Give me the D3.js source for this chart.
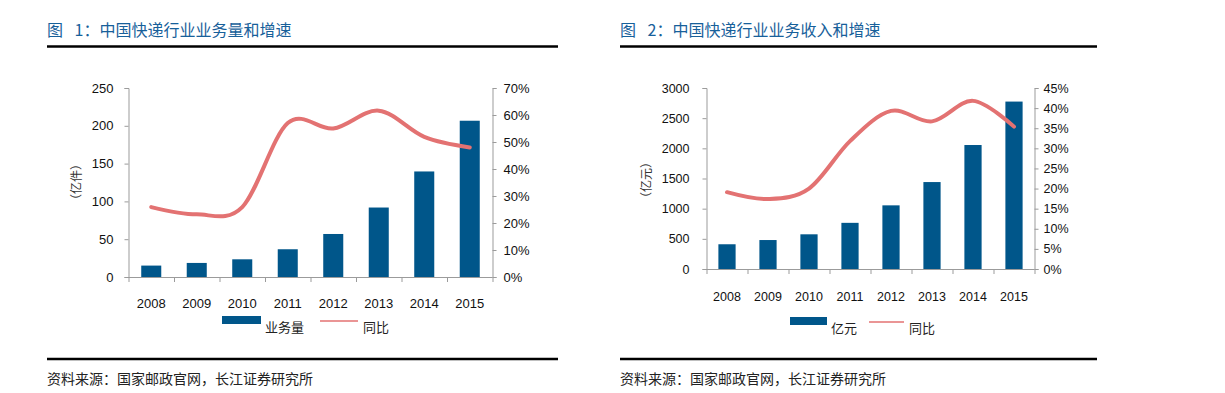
<!DOCTYPE html>
<html>
<head>
<meta charset="utf-8">
<script src="https://cdn.jsdelivr.net/npm/d3@7"></script>
<style>
  html, body { margin: 0; padding: 0; background: #fff; }
  svg { display: block; }
</style>
</head>
<body>
<svg id="chart" width="1225" height="393"></svg>
<script>
// ---------- DATA ----------
const years = ["2008", "2009", "2010", "2011", "2012", "2013", "2014", "2015"];

// Chart 1: 业务量 (亿件) and 同比
const volume = [15.1, 18.6, 23.4, 36.7, 56.9, 91.9, 139.6, 206.7];
const volumeGrowth = [0.259, 0.232, 0.259, 0.57, 0.55, 0.616, 0.519, 0.48];
const volumeTicks = [0, 50, 100, 150, 200, 250];
const volumePctTicks = [0, 0.1, 0.2, 0.3, 0.4, 0.5, 0.6, 0.7];

// Chart 2: 业务收入 (亿元) and 同比
const revenue = [410, 480, 575, 765, 1055, 1441, 2055, 2775];
const revenueGrowth = [0.191, 0.174, 0.20, 0.318, 0.393, 0.367, 0.418, 0.354];
const revenueTicks = [0, 500, 1000, 1500, 2000, 2500, 3000];
const revenuePctTicks = [0, 0.05, 0.1, 0.15, 0.2, 0.25, 0.3, 0.35, 0.4, 0.45];

const titles = ["图\u2002 1：中国快递行业业务量和增速", "图\u2002 2：中国快递行业业务收入和增速"];
const yTitles = ["（亿件）", "（亿元）"];
const legendBar = ["业务量", "亿元"];
const legendLine = "同比";
const sourceText = "资料来源：国家邮政官网，长江证券研究所";

// ---------- STYLE ----------
const BAR = "#00568A";
const LINE = "#E37272";
const AXIS = "#9B9B9B";
const TITLE = "#17609A";
const LATIN = "'Liberation Sans', Arial, sans-serif";
const CJK = "'Noto Sans CJK SC', 'Liberation Sans', sans-serif";

const svg = d3.select("#chart");

function drawPanel(cfg) {
  const g = svg.append("g");

  // Title + rules
  g.append("text").attr("x", cfg.frameX0).attr("y", 36)
    .attr("font-family", CJK).attr("font-size", 16).attr("fill", TITLE)
    .style("white-space", "pre")
    .text(cfg.title);
  g.append("line").attr("x1", cfg.frameX0).attr("x2", cfg.frameX1)
    .attr("y1", 46.5).attr("y2", 46.5).attr("stroke", "#000").attr("stroke-width", 2.5);
  g.append("line").attr("x1", cfg.frameX0).attr("x2", cfg.frameX1)
    .attr("y1", 359).attr("y2", 359).attr("stroke", "#000").attr("stroke-width", 2.5);
  g.append("text").attr("x", cfg.frameX0).attr("y", 384)
    .attr("font-family", CJK).attr("font-size", 14).attr("fill", "#222")
    .text(sourceText);

  const x = d3.scaleBand().domain(years)
    .range([cfg.left, cfg.right])
    .paddingInner(cfg.pad).paddingOuter(cfg.pad / 2);
  const y = d3.scaleLinear().domain([0, cfg.yMax]).range([cfg.bottom, cfg.top]);
  const y2 = d3.scaleLinear().domain([0, cfg.y2Max]).range([cfg.bottom, cfg.top]);

  // Bars
  g.append("g").selectAll("rect").data(cfg.bars).join("rect")
    .attr("x", (d, i) => x(years[i]))
    .attr("width", x.bandwidth())
    .attr("y", d => y(d))
    .attr("height", d => cfg.bottom - y(d))
    .attr("fill", BAR);

  // Left axis
  const la = g.append("g").attr("transform", `translate(${cfg.left},0)`)
    .call(d3.axisLeft(y).tickValues(cfg.yTicks).tickSize(4).tickPadding(cfg.lPad)
      .tickFormat(d3.format("d")));
  // Right axis
  const ra = g.append("g").attr("transform", `translate(${cfg.right},0)`)
    .call(d3.axisRight(y2).tickValues(cfg.y2Ticks).tickSize(4).tickPadding(cfg.rPad)
      .tickFormat(d3.format(".0%")));
  [la, ra].forEach(a => {
    a.select(".domain").attr("stroke", AXIS);
    a.selectAll(".tick line").attr("stroke", AXIS);
    a.selectAll("text").attr("font-family", LATIN).attr("font-size", cfg.fs).attr("fill", "#111");
  });

  // X axis line and boundary ticks
  g.append("line").attr("x1", cfg.left).attr("x2", cfg.right)
    .attr("y1", cfg.bottom + 0.5).attr("y2", cfg.bottom + 0.5).attr("stroke", AXIS);
  const step = x.step();
  g.append("g").selectAll("line").data(d3.range(years.length + 1)).join("line")
    .attr("x1", i => cfg.left + i * step + 0.5).attr("x2", i => cfg.left + i * step + 0.5)
    .attr("y1", cfg.bottom).attr("y2", cfg.bottom + 5).attr("stroke", AXIS);
  g.append("g").selectAll("text").data(years).join("text")
    .attr("x", d => x(d) + x.bandwidth() / 2)
    .attr("y", cfg.bottom + cfg.xLabDy)
    .attr("text-anchor", "middle")
    .attr("font-family", LATIN).attr("font-size", cfg.fs).attr("fill", "#111")
    .text(d => d);

  // Y title
  g.append("text")
    .attr("transform", `translate(${cfg.yTitleX},${cfg.yTitleY}) rotate(-90)`)
    .attr("text-anchor", "middle").attr("dominant-baseline", "central")
    .attr("font-family", CJK).attr("font-size", 12).attr("fill", "#333")
    .text(cfg.yTitle);

  // Growth line
  const line = d3.line()
    .x((d, i) => x(years[i]) + x.bandwidth() / 2)
    .y(d => y2(d))
    .curve(d3.curveCatmullRom.alpha(0));
  g.append("path").datum(cfg.growth)
    .attr("d", line).attr("fill", "none")
    .attr("stroke", LINE).attr("stroke-width", 4)
    .attr("stroke-linecap", "round").attr("stroke-linejoin", "round");

  // Legend
  const L = cfg.legend;
  g.append("rect").attr("x", L.barX).attr("y", L.y - 5).attr("width", L.barW).attr("height", 8)
    .attr("fill", BAR);
  g.append("text").attr("x", L.barX + L.barW + 4).attr("y", L.y + 11)
    .attr("font-family", CJK).attr("font-size", 13).attr("fill", "#222")
    .text(cfg.legendBar);
  g.append("line").attr("x1", L.lineX).attr("x2", L.lineX + L.lineW)
    .attr("y1", L.y).attr("y2", L.y).attr("stroke", LINE).attr("stroke-width", 1.5);
  g.append("text").attr("x", L.lineX + L.lineW + 5).attr("y", L.y + 11)
    .attr("font-family", CJK).attr("font-size", 13).attr("fill", "#222")
    .text(legendLine);
}

drawPanel({
  title: titles[0], yTitle: yTitles[0], legendBar: legendBar[0],
  frameX0: 47, frameX1: 558,
  left: 128.5, right: 492.5, top: 88, bottom: 277,
  pad: 0.56, fs: 13, xLabDy: 31, lPad: 11, rPad: 7,
  yMax: 250, y2Max: 0.7, yTicks: volumeTicks, y2Ticks: volumePctTicks,
  bars: volume, growth: volumeGrowth,
  yTitleX: 75, yTitleY: 182,
  legend: { barX: 222, barW: 39, lineX: 320, lineW: 38, y: 321 }
});

drawPanel({
  title: titles[1], yTitle: yTitles[1], legendBar: legendBar[1],
  frameX0: 620, frameX1: 1097,
  left: 706.5, right: 1034.5, top: 88, bottom: 269,
  pad: 0.58, fs: 12.5, xLabDy: 32, lPad: 13, rPad: 5,
  yMax: 3000, y2Max: 0.45, yTicks: revenueTicks, y2Ticks: revenuePctTicks,
  bars: revenue, growth: revenueGrowth,
  yTitleX: 645, yTitleY: 180,
  legend: { barX: 790, barW: 37, lineX: 869, lineW: 35, y: 322 }
});
</script>
</body>
</html>
